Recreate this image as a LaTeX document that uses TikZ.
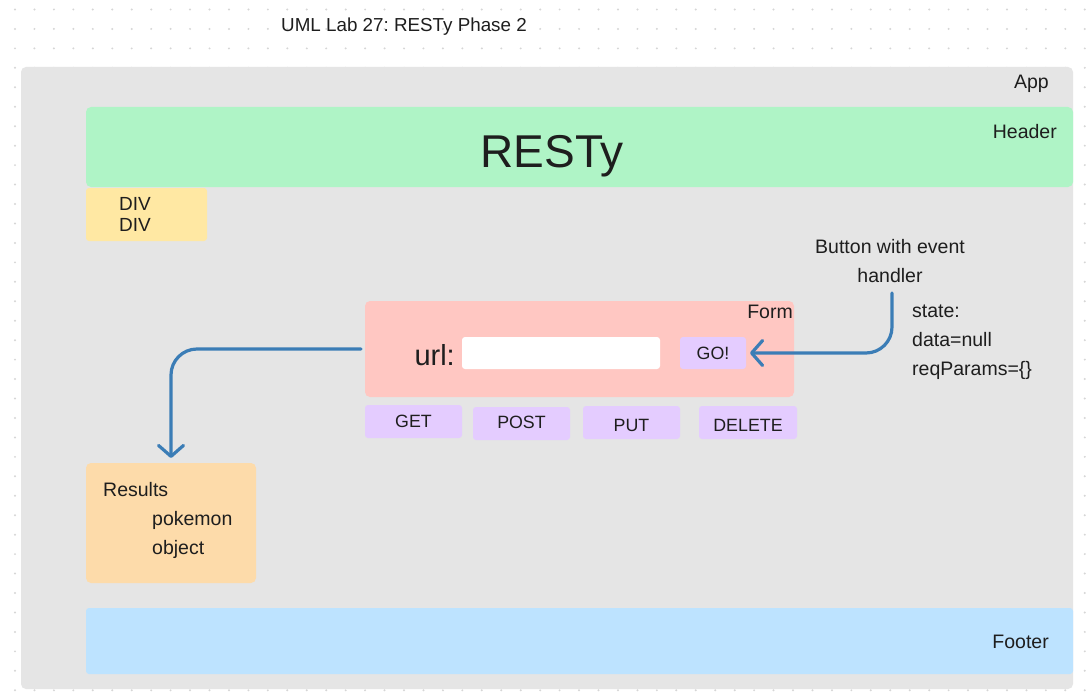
\documentclass[tikz,border=0pt]{standalone}
\usepackage{fontspec}
\setmainfont{Liberation Sans}
\usetikzlibrary{arrows.meta}
\frenchspacing
\definecolor{appc}{HTML}{E5E5E5}
\definecolor{headc}{HTML}{AFF4C6}
\definecolor{divc}{HTML}{FFE8A3}
\definecolor{formc}{HTML}{FFC7C2}
\definecolor{btnc}{HTML}{E4CCFF}
\definecolor{resc}{HTML}{FDDBAA}
\definecolor{footc}{HTML}{BDE3FF}
\definecolor{arrc}{HTML}{3B7DB6}
\definecolor{txtc}{HTML}{1E1E1E}
\definecolor{dotc}{HTML}{D6D6D6}
\tikzset{
  area/.style={draw=none, rounded corners=5pt, anchor=north west, inner sep=0pt, outer sep=0pt},
  lbl/.style={text=txtc, inner sep=0pt, font=\fontsize{19.5}{23}\selectfont},
  btntxt/.style={text=txtc, inner sep=0pt, font=\fontsize{17.8}{21}\selectfont},
  conn/.style={draw=arrc, line width=3.2pt, line cap=round, rounded corners=26pt,
    -{Straight Barb[length=11pt,width=25pt,round]}},
}
\begin{document}
\begin{tikzpicture}[x=1pt,y=-1pt]
\useasboundingbox (0,0) rectangle (1091,698);
\fill[white] (0,0) rectangle (1091,698);
% dot grid
\foreach \i in {0,...,55}{
  \foreach \j in {0,...,35}{
    \fill[dotc] ({15+19.45*\i},{9.5+19.45*\j}) circle (1.1pt);
  }
}
% title
\node[lbl, font=\fontsize{18.8}{22}\selectfont, anchor=base west] (title) at (281,31.5) {UML Lab 27: RESTy Phase 2};
% App
\node[area, fill=appc, minimum width=1052pt, minimum height=622pt] (app) at (21,67) {};
\node[lbl, anchor=base east] (applbl) at (1049,89) {App};
% Header
\node[area, fill=headc, minimum width=987pt, minimum height=80pt] (header) at (86,107) {};
\node[lbl, anchor=base east] (headlbl) at (1057,138) {Header};
\node[text=txtc, inner sep=0pt, font=\fontsize{46}{50}\selectfont, anchor=base] (resty) at (552,167) {RESTy};
% DIV
\node[area, fill=divc, rounded corners=3pt, minimum width=121pt, minimum height=53pt] (div) at (86,188) {};
\node[lbl, font=\fontsize{19}{21}\selectfont, anchor=base west] (div1) at (119,210) {DIV};
\node[lbl, font=\fontsize{19}{21}\selectfont, anchor=base west] (div2) at (119,231) {DIV};
% Form
\node[area, fill=formc, minimum width=429pt, minimum height=96pt] (form) at (365,301) {};
\node[lbl, anchor=base east] (formlbl) at (793,318) {Form};
\node[text=txtc, inner sep=0pt, font=\fontsize{29}{32}\selectfont, anchor=base east] (urllbl) at (455,365) {url:};
\node[area, fill=white, rounded corners=3pt, minimum width=198pt, minimum height=32pt] (input) at (462,337) {};
\node[area, fill=btnc, rounded corners=3pt, minimum width=66pt, minimum height=32pt] (go) at (680,337) {};
\node[btntxt] at (go.center) {GO!};
% method buttons
\node[area, fill=btnc, rounded corners=3pt, minimum width=97pt, minimum height=33pt] (get) at (365,405) {};
\node[btntxt] at (get.center) {GET};
\node[area, fill=btnc, rounded corners=3pt, minimum width=97pt, minimum height=33pt] (post) at (473,407) {};
\node[btntxt] at ([yshift=1.5pt]post.center) {POST};
\node[area, fill=btnc, rounded corners=3pt, minimum width=97pt, minimum height=33pt] (put) at (583,406) {};
\node[btntxt] at ([yshift=-2.5pt]put.center) {PUT};
\node[area, fill=btnc, rounded corners=3pt, minimum width=98pt, minimum height=33pt] (delete) at (699,406) {};
\node[btntxt] at ([yshift=-2.5pt]delete.center) {DELETE};
% Button label and state
\node[lbl, anchor=base] (btnlbl1) at (890,253) {Button with event};
\node[lbl, anchor=base] (btnlbl2) at (890,282) {handler};
\coordinate (evstart) at (892,293);
\node[lbl, anchor=base west] (st1) at (912,317) {state:};
\node[lbl, anchor=base west] (st2) at (912,346) {data=null};
\node[lbl, anchor=base west] (st3) at (912,375) {reqParams=\{\}};
% Results
\node[area, fill=resc, minimum width=170pt, minimum height=120pt] (results) at (86,463) {};
\node[lbl, anchor=base west] (res1) at (103,496) {Results};
\node[lbl, anchor=base west] (res2) at (152,525) {pokemon};
\node[lbl, anchor=base west] (res3) at (152,554) {object};
% Footer
\node[area, fill=footc, rounded corners=3pt, minimum width=987pt, minimum height=66pt] (footer) at (86,608) {};
\node[lbl, anchor=base east] (footlbl) at (1049,648) {Footer};
% connectors
\draw[conn] (evstart) |- ([xshift=4pt]go.east);
\draw[conn, shorten >=5pt] ([xshift=-4pt]form.west) -| (results.north);
\end{tikzpicture}
\end{document}
